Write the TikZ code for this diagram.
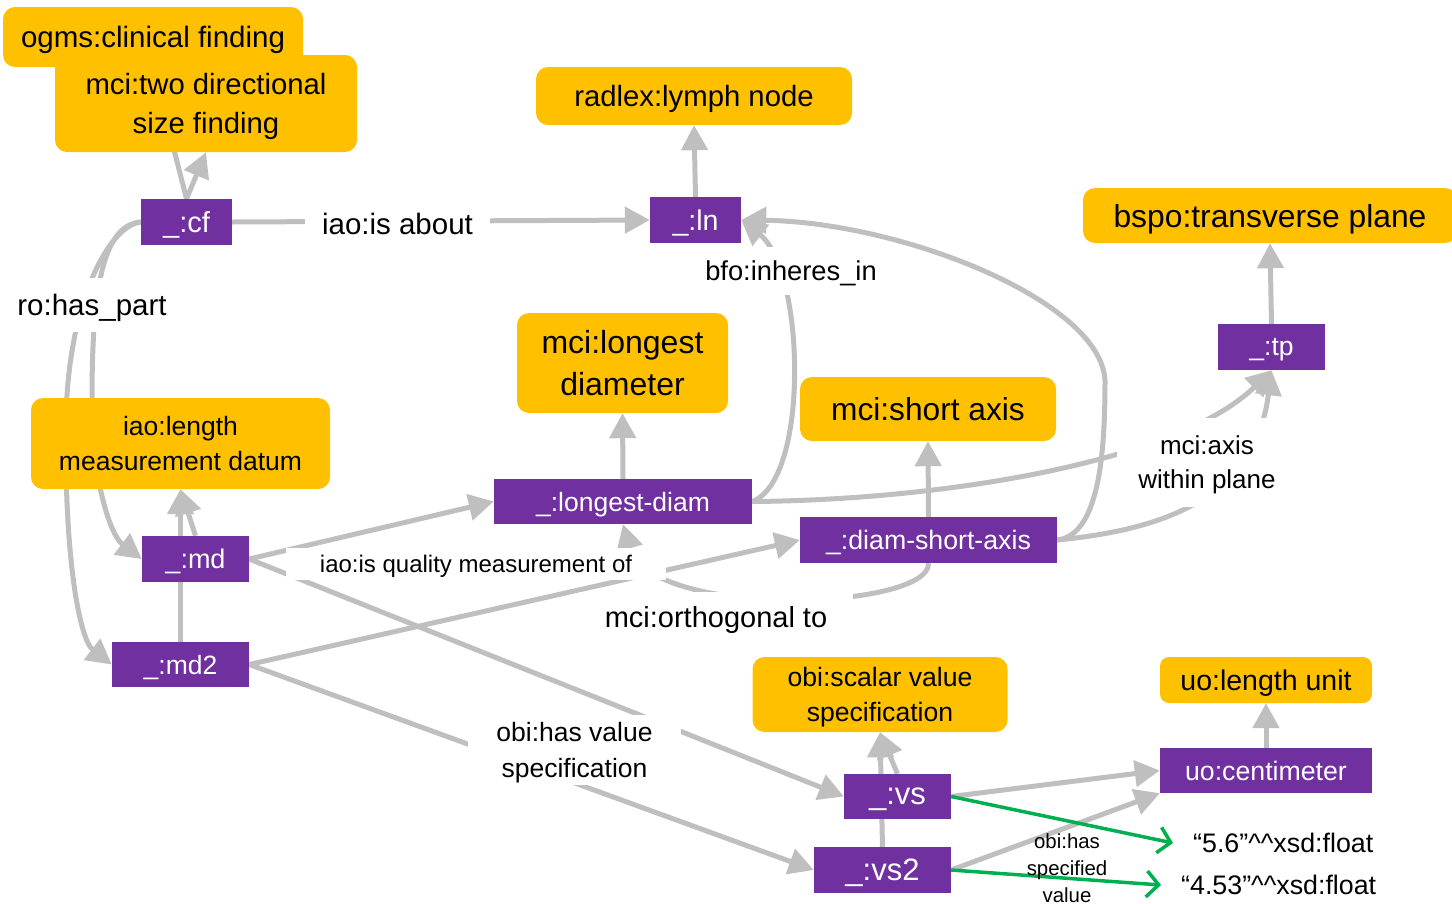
\documentclass[tikz,border=0pt]{standalone}
\usepackage{fontspec}
\setmainfont{Liberation Sans}
\usetikzlibrary{arrows.meta}
\definecolor{clsfill}{HTML}{FFC000}
\definecolor{indfill}{HTML}{7030A0}
\definecolor{edgegray}{HTML}{BFBFBF}
\definecolor{litgreen}{HTML}{00B050}
\pgfdeclarelayer{edges}
\pgfsetlayers{edges,main}
% font size in pt with a 4/3 line spacing
\newcommand\fsz[1]{\fontsize{#1pt}{\dimexpr #1pt*4/3\relax}\selectfont}
\begin{document}
\begin{tikzpicture}[x=1pt,y=-1pt,
  every node/.style={text depth=0pt},
  cls/.style={fill=clsfill, rounded corners=12pt, inner sep=0pt, align=center, text=black},
  ind/.style={fill=indfill, inner sep=0pt, text=white},
  lbl/.style={fill=white, inner sep=0pt, align=center},
  rel/.style={draw=edgegray, line width=5pt, -{Triangle[length=25pt,width=26pt]}},
  lit/.style={draw=litgreen, line width=3.5pt, -{Straight Barb[length=12pt,width=26pt]}},
]
\useasboundingbox (0,0) rectangle (1452,903);

% classes
\node[cls, minimum width=300pt, minimum height=60pt, font=\fsz{29.5}] (ogms) at (153,37) {ogms:clinical finding};
\node[cls, minimum width=302pt, minimum height=97pt, font=\fsz{29.3}] (twodir) at (206,103.5) {mci:two directional\\size finding};
\node[cls, minimum width=316pt, minimum height=58pt, font=\fsz{29.3}] (radlex) at (694,96) {radlex:lymph node};
\node[cls, minimum width=374pt, minimum height=55pt, font=\fsz{31.8}] (bspo) at (1270,215.5) {bspo:transverse plane};
\node[cls, minimum width=211pt, minimum height=100pt, font=\fsz{32}] (longdiam) at (622.5,363) {mci:longest\\diameter};
\node[cls, minimum width=256pt, minimum height=64pt, font=\fsz{31.7}] (shortaxis) at (928,409) {mci:short axis};
\node[cls, minimum width=299pt, minimum height=91pt, font=\fsz{26.5}] (lmd) at (180.5,443.5) {iao:length\\measurement datum};
\node[cls, minimum width=255pt, minimum height=75pt, font=\fsz{26.6}] (scalar) at (880,694.5) {obi:scalar value\\specification};
\node[cls, rounded corners=9pt, minimum width=212pt, minimum height=46pt, font=\fsz{28.5}] (lenunit) at (1266,680) {uo:length unit};

% individuals
\node[ind, minimum width=91pt, minimum height=46pt, font=\fsz{29}] (cf) at (186.5,222) {\_:cf};
\node[ind, minimum width=91pt, minimum height=46pt, font=\fsz{28.5}] (ln) at (695.5,220) {\_:ln};
\node[ind, minimum width=107pt, minimum height=46pt, font=\fsz{26.5}] (tp) at (1271.5,347) {\_:tp};
\node[ind, minimum width=258pt, minimum height=45pt, font=\fsz{26.5}] (ld) at (623,501.5) {\_:longest-diam};
\node[ind, minimum width=257pt, minimum height=46pt, font=\fsz{26.7}] (dsa) at (928.5,540) {\_:diam-short-axis};
\node[ind, minimum width=107pt, minimum height=46pt, font=\fsz{27}] (md) at (195.5,559) {\_:md};
\node[ind, minimum width=137pt, minimum height=45pt, font=\fsz{26.5}] (md2) at (180.5,664.5) {\_:md2};
\node[ind, minimum width=107pt, minimum height=45pt, font=\fsz{31}] (vs) at (897.5,796.5) {\_:vs};
\node[ind, minimum width=137pt, minimum height=46pt, font=\fsz{31}] (vs2) at (882.5,870) {\_:vs2};
\node[ind, minimum width=212pt, minimum height=45pt, font=\fsz{26.7}] (cm) at (1266,770.5) {uo:centimeter};

% literals
\node[font=\fsz{26.8}, inner xsep=20pt, inner ysep=0pt, anchor=west] (val1) at (1173,843) {“5.6”\textasciicircum\textasciicircum xsd:float};
\node[font=\fsz{26.8}, inner xsep=20pt, inner ysep=0pt, anchor=west] (val2) at (1161,885) {“4.53”\textasciicircum\textasciicircum xsd:float};

% relation labels
\node[lbl, minimum width=185pt, minimum height=40pt, font=\fsz{29.5}] (isabout) at (397.5,224) {iao:is about};
\node[lbl, minimum width=160pt, minimum height=54pt, font=\fsz{29.5}] (haspart) at (92,305) {ro:has\_part};
\node[lbl, minimum width=180pt, minimum height=48pt, font=\fsz{27.3}] (inheres) at (791,271) {bfo:inheres\_in};
\node[lbl, minimum width=180pt, minimum height=89pt, font=\fsz{26}] (axisplane) at (1207,462) {mci:axis\\within plane};
\node[lbl, minimum width=380pt, minimum height=32pt, font=\fsz{24}] (qualmeas) at (476,564) {iao:is quality measurement of};
\node[lbl, minimum width=274pt, minimum height=50pt, font=\fsz{29}] (orthog) at (716,617) {mci:orthogonal to};
\node[lbl, minimum width=213pt, minimum height=70pt, font=\fsz{26.5}] (hasvalue) at (574.5,750) {obi:has value\\specification};
\node[font=\fsz{20.4}, align=center, inner sep=0pt] (hasspec) at (1067,868) {obi:has\\specified\\value};

\begin{pgfonlayer}{edges}
\draw[rel] (cf.north) -- (ogms.south);
\draw[rel] (cf.north) -- (twodir.south);
\draw[rel] (cf.east) -- (ln.west);
\draw[rel] (ln.north) -- (radlex.south);
\draw[rel] (cf.west) .. controls (100,225) and (92,300) .. (92,400) .. controls (92,480) and (110,535) .. (md.west);
\draw[rel] (cf.west) .. controls (110,225) and (68,300) .. (66,420) .. controls (64,560) and (80,640) .. (md2.west);
\draw[rel] (md.north) -- (lmd.south);
\draw[rel] (md2.north) -- (lmd.south);
\draw[rel] (md.east) -- (ld.west);
\draw[rel] (md.east) -- (vs.west);
\draw[rel] (md2.east) -- (dsa.west);
\draw[rel] (md2.east) -- (vs2.west);
\draw[rel] (ld.north) -- (longdiam.south);
\draw[rel] (ld.east) .. controls (810,480) and (805,270) .. (ln.east);
\draw[rel] (dsa.east) .. controls (1100,535) and (1105,450) .. (1105,380) .. controls (1100,300) and (900,222) .. (ln.east);
\draw[rel] (ld.east) .. controls (950,500) and (1180,460) .. (tp.south);
\draw[rel] (dsa.east) .. controls (1160,530) and (1255,500) .. (tp.south);
\draw[rel] (tp.north) -- (bspo.south);
\draw[rel] (dsa.north) -- (shortaxis.south);
\draw[rel] (dsa.south) .. controls (930,610) and (650,620) .. (ld.south);
\draw[rel] (vs.north) -- (scalar.south);
\draw[rel] (vs2.north) -- (scalar.south);
\draw[rel] (vs.east) -- (cm.west);
\draw[rel] (vs2.east) -- (cm.south west);
\draw[rel] (cm.north) -- (lenunit.south);
\draw[lit] (vs.east) -- (val1.west);
\draw[lit] (vs2.east) -- (val2.west);
\end{pgfonlayer}
\end{tikzpicture}
\end{document}
